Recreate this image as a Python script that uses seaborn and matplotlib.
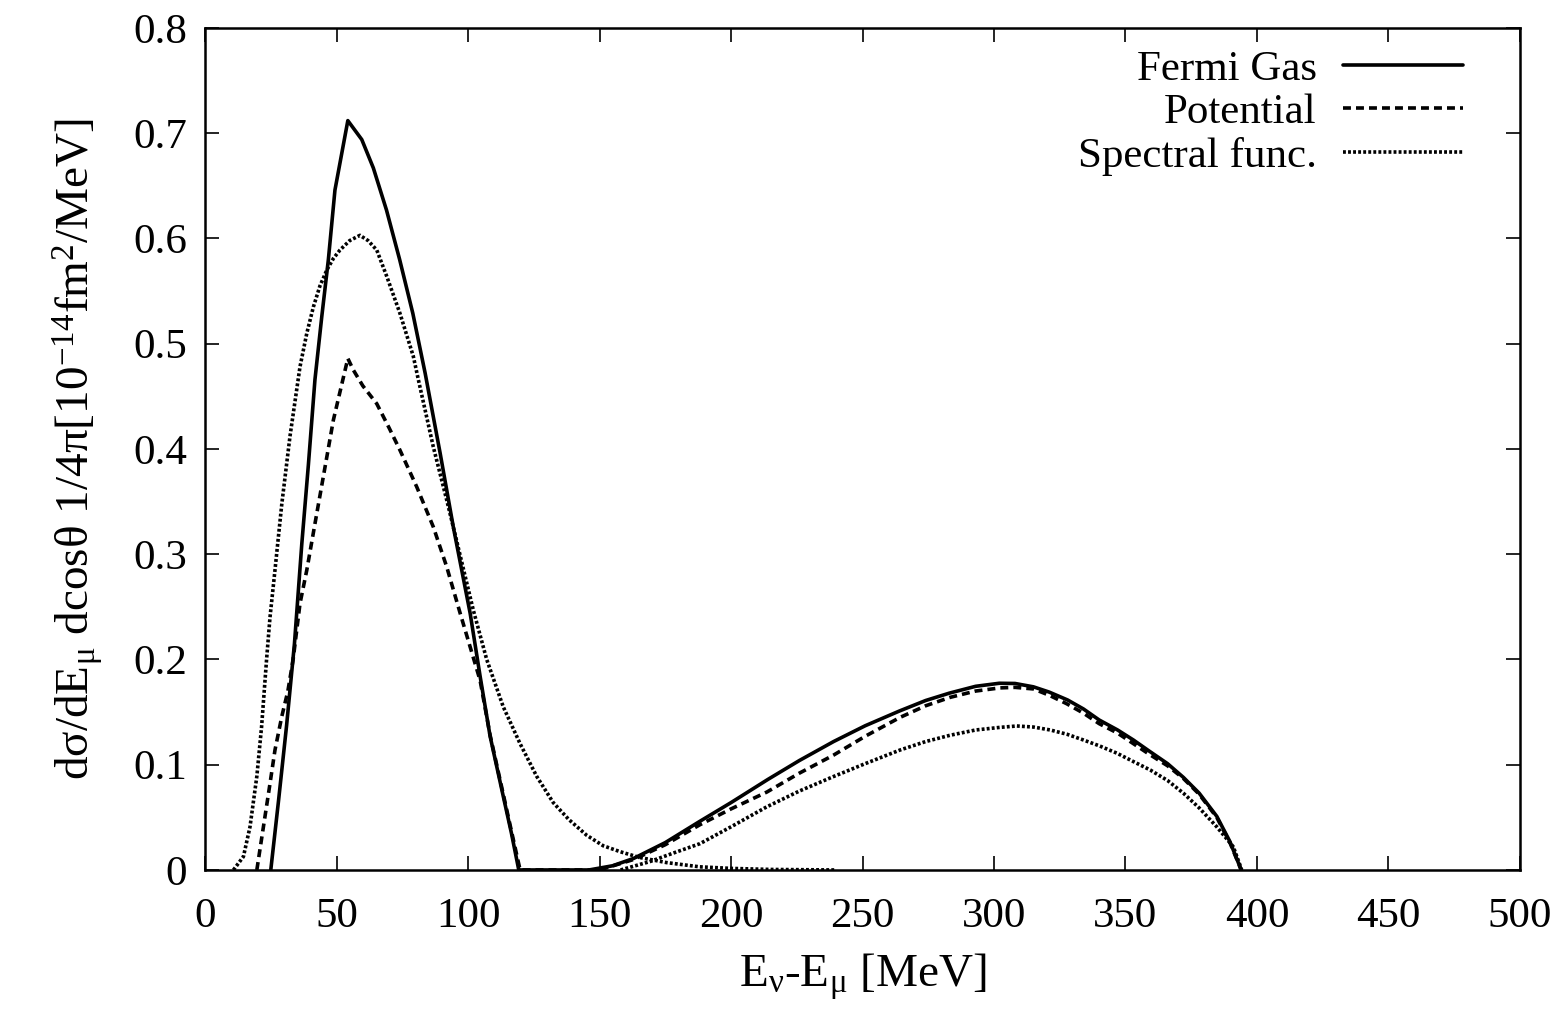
import numpy as np
import pandas as pd
import matplotlib
matplotlib.use("Agg")
import matplotlib.pyplot as plt
from matplotlib.lines import Line2D
import seaborn as sns

# ---------------- data ----------------
fermi_x = [25, 28, 31, 34, 36.8, 39.3, 41.8, 44.4, 46.9, 49.4, 54.3, 59.6, 64, 69, 74, 79,
           83.7, 89.4, 94.4, 100.8, 104.6, 108.4, 113.4, 116.5, 119.3,
           146, 155, 163, 175, 188, 200, 214, 226, 239, 251, 264, 274, 283, 293, 302, 308,
           315, 321, 328, 334, 340, 347, 353, 359, 366, 372, 378, 384.7, 389.7, 394]
fermi_y = [0, 0.067, 0.137, 0.215, 0.31, 0.385, 0.466, 0.526, 0.58, 0.646, 0.712, 0.694,
           0.667, 0.627, 0.58, 0.529, 0.472, 0.396, 0.326, 0.244, 0.184, 0.127, 0.07, 0.035, 0,
           0, 0.004, 0.011, 0.026, 0.046, 0.064, 0.086, 0.104, 0.122, 0.137, 0.151, 0.161,
           0.168, 0.1745, 0.1774, 0.1772, 0.174, 0.169, 0.1615, 0.153, 0.1425, 0.133, 0.1235,
           0.113, 0.101, 0.088, 0.073, 0.051, 0.027, 0]

pot_x = [19.7, 22.2, 24.7, 26.6, 29.2, 31.5, 33.5, 36.1, 38.7, 41.8, 45, 48.8, 54.3, 56.4,
         60, 65.3, 70, 74.1, 80.5, 86.8, 91.9, 97, 100.8, 104.6, 108.4, 113.4, 116.5, 119.8,
         150, 163, 175, 188.2, 200, 213.6, 226, 238.9, 251, 264.3, 274, 283.3, 293, 302.3,
         308, 315, 321, 327.6, 334, 340, 347, 353, 359, 366, 372, 378, 384.7, 389.7, 394]
pot_y = [0, 0.041, 0.082, 0.114, 0.146, 0.17, 0.2, 0.253, 0.285, 0.329, 0.374, 0.4275, 0.486,
         0.475, 0.46, 0.443, 0.42, 0.399, 0.364, 0.326, 0.288, 0.244, 0.212, 0.18, 0.128, 0.072,
         0.037, 0, 0, 0.01, 0.024, 0.043, 0.058, 0.074, 0.092, 0.109, 0.127, 0.145, 0.156,
         0.164, 0.170, 0.173, 0.1735, 0.172, 0.166, 0.158, 0.149, 0.139, 0.13, 0.12, 0.11,
         0.099, 0.087, 0.072, 0.05, 0.026, 0]

spec1_x = [10.8, 14.6, 17.1, 19.7, 21.5, 23.4, 24.7, 26.6, 29.2, 32.3, 36.1, 38.7, 41.2,
           43.7, 46.3, 48.8, 51.3, 55, 58.9, 62, 65.3, 69.1, 74.1, 79.2, 81.1, 86.8, 91.9,
           95.6, 102, 107.1, 113.4, 119.8, 126.1, 132.4, 138.3, 145.1, 151.4, 157.8, 165,
           175.5, 188, 200, 215, 240]
spec1_y = [0, 0.0127, 0.041, 0.089, 0.136, 0.2, 0.24, 0.285, 0.348, 0.412, 0.478, 0.51,
           0.535, 0.555, 0.570, 0.581, 0.589, 0.598, 0.603, 0.598, 0.589, 0.564, 0.529, 0.488,
           0.466, 0.402, 0.3515, 0.3135, 0.247, 0.2, 0.155, 0.12, 0.089, 0.064, 0.048, 0.033,
           0.023, 0.0174, 0.012, 0.007, 0.003, 0.0015, 0.0005, 0]

spec2_x = [158, 169.2, 178, 188.2, 200, 213.6, 226, 238.9, 251, 264.3, 274, 283.3, 293,
           302.3, 308.7, 315, 321.4, 327.7, 334, 340, 346.7, 353, 359.4, 366, 372, 378,
           384.7, 391, 394.2]
spec2_y = [0, 0.008, 0.016, 0.025, 0.041, 0.060, 0.075, 0.0887, 0.101, 0.114, 0.122, 0.128,
           0.133, 0.1355, 0.1368, 0.1358, 0.133, 0.129, 0.1235, 0.118, 0.111, 0.103, 0.095,
           0.085, 0.073, 0.059, 0.041, 0.022, 0]

models = ["Fermi Gas", "Potential", "Spectral func."]
x_ticks = [0, 50, 100, 150, 200, 250, 300, 350, 400, 450, 500]
y_ticks = [0, 0.1, 0.2, 0.3, 0.4, 0.5, 0.6, 0.7, 0.8]
y_tick_labels = ["0", "0.1", "0.2", "0.3", "0.4", "0.5", "0.6", "0.7", "0.8"]

frames = []
for name, seg, xs, ys in [("Fermi Gas", "fg", fermi_x, fermi_y),
                          ("Potential", "pot", pot_x, pot_y),
                          ("Spectral func.", "sf1", spec1_x, spec1_y),
                          ("Spectral func.", "sf2", spec2_x, spec2_y)]:
    frames.append(pd.DataFrame({"E": xs, "val": ys, "model": name, "segment": seg}))
df = pd.concat(frames, ignore_index=True)

# ---------------- style ----------------
sns.set_theme(style="ticks")
plt.rcParams["font.family"] = ["Liberation Serif", "DejaVu Serif"]
plt.rcParams["mathtext.fontset"] = "custom"
plt.rcParams["mathtext.rm"] = "Liberation Serif"
plt.rcParams["mathtext.it"] = "Liberation Serif:italic"
plt.rcParams["mathtext.bf"] = "Liberation Serif:bold"
for k in ["text.color", "axes.labelcolor", "xtick.color", "ytick.color", "axes.edgecolor"]:
    plt.rcParams[k] = "black"

FS = 31
LFS = 34
LW = 2.6
dash_map = {"Fermi Gas": "", "Potential": (2.2, 1.4), "Spectral func.": (0.8, 0.6)}

fig = plt.figure(figsize=(15.58, 10.11), dpi=100)
ax = fig.add_axes([0.1316, 0.1395, 0.844, 0.8328])

sns.lineplot(data=df, x="E", y="val", style="model", units="segment", estimator=None,
             sort=False, color="black", dashes=dash_map, style_order=models,
             linewidth=LW, legend=False, ax=ax)

ax.set_xlim(0, 500)
ax.set_ylim(0, 0.8)
ax.set_xticks(x_ticks)
ax.set_xticklabels([str(v) for v in x_ticks])
ax.set_yticks(y_ticks)
ax.set_yticklabels(y_tick_labels)
ax.tick_params(axis="both", which="major", direction="in", length=10, width=1.2,
               top=True, right=True, labelsize=FS, colors="black")
ax.tick_params(axis="x", pad=20)
ax.tick_params(axis="y", pad=13)
for s in ax.spines.values():
    s.set_linewidth(1.8)
    s.set_color("black")

ax.set_xlabel(r"E$_{\mathrm{ν}}$-E$_{\mathrm{μ}}$ [MeV]", fontsize=LFS, labelpad=11)
ax.set_ylabel(r"dσ/dE$_{\mathrm{μ}}$ dcosθ 1/4π[10$^{-14}$fm$^{2}$/MeV]",
              fontsize=LFS, labelpad=20)

handles = [Line2D([], [], color="black", lw=LW, linestyle="-"),
           Line2D([], [], color="black", lw=LW, dashes=dash_map["Potential"]),
           Line2D([], [], color="black", lw=LW, dashes=dash_map["Spectral func."])]
ax.legend(handles, models, loc="upper right", bbox_to_anchor=(0.983, 1.015),
          frameon=False, markerfirst=False,
          fontsize=FS, handlelength=2.8, handletextpad=0.6, labelspacing=0.1,
          borderaxespad=0.6, borderpad=0.2)

fig.savefig("out.png", dpi=100)
